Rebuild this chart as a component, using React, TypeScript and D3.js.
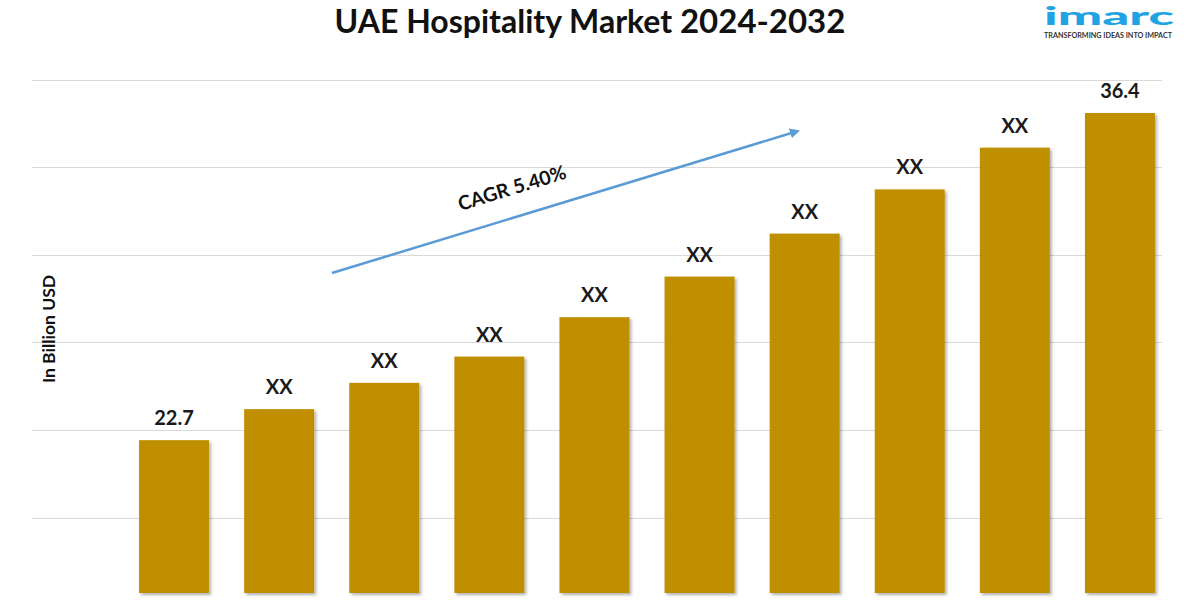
import * as d3 from 'd3';
import React from 'react';

const years = ['2023', '2024', '2025', '2026', '2027', '2028', '2029', '2030', '2031', '2032'];
const marketValues = [22.7, 24.0, 25.1, 26.2, 27.85, 29.55, 31.35, 33.2, 34.95, 36.4];
const valueLabels = ['22.7', 'XX', 'XX', 'XX', 'XX', 'XX', 'XX', 'XX', 'XX', '36.4'];
// hidden value axis: major gridlines only
const gridValues = [19.46, 23.13, 26.79, 30.45, 34.12, 37.78];

const titleText = 'UAE Hospitality Market';
const titleYears = '2024-2032';
const yAxisTitle = 'In Billion USD';
const cagrText = 'CAGR 5.40%';

const W = 1200;
const H = 600;
const FONT = 'Lato, "Open Sans", "DejaVu Sans", sans-serif';
const BAR = '#BF8F00';
const GRID = '#D9D9D9';
const BLUE = '#5B9BD5';

const App = () => {
  const xScale = d3
    .scaleBand()
    .domain(years)
    .range([121.5, 1172.5])
    .paddingInner(0.334)
    .paddingOuter(0.167);

  const yScale = d3.scaleLinear().domain([16.3, 36.4]).range([593, 113]);

  const bw = xScale.bandwidth();

  return (
    <svg
      width={W}
      height={H}
      style={{ position: 'absolute', left: 0, top: 0, background: '#fff' }}
    >
      <defs>
        <filter id="barShadow" x="-10%" y="-10%" width="130%" height="130%">
          <feDropShadow dx="2" dy="2" stdDeviation="1.5" floodColor="#000" floodOpacity="0.3" />
        </filter>
        <marker
          id="arrowHead"
          viewBox="0 0 10 10"
          refX="8"
          refY="5"
          markerWidth="4"
          markerHeight="4"
          orient="auto"
        >
          <path d="M0,0 L10,5 L0,10 z" fill={BLUE} />
        </marker>
      </defs>

      <rect width={W} height={H} fill="#fff" />

      {/* title */}
      <text
        x={590}
        y={33}
        textAnchor="middle"
        fontFamily={FONT}
        fontWeight="bold"
        fontSize={32}
        fill="#111"
      >
        {titleText} <tspan fontSize={33}>{titleYears}</tspan>
      </text>

      {/* logo */}
      <text
        x={1044}
        y={25}
        fontFamily={FONT}
        fontWeight={900}
        fontSize={25}
        fill="#1FA3E3"
        textLength={130}
        lengthAdjust="spacingAndGlyphs"
      >
        imarc
      </text>
      <text
        x={1044}
        y={37.5}
        fontFamily={FONT}
        fontWeight="bold"
        fontSize={6.5}
        fill="#333"
        textLength={128}
        lengthAdjust="spacingAndGlyphs"
      >
        TRANSFORMING IDEAS INTO IMPACT
      </text>

      {/* gridlines */}
      <g>
        {gridValues.map((v) => (
          <line
            key={v}
            x1={32}
            x2={1162}
            y1={Math.round(yScale(v)) + 0.5}
            y2={Math.round(yScale(v)) + 0.5}
            stroke={GRID}
            strokeWidth={1}
          />
        ))}
      </g>

      {/* y axis title */}
      <text
        transform={`translate(55,329) rotate(-90)`}
        textAnchor="middle"
        fontFamily={FONT}
        fontWeight="bold"
        fontSize={17.5}
        fill="#111"
      >
        {yAxisTitle}
      </text>

      {/* bars */}
      <g filter="url(#barShadow)">
        {years.map((yr, i) => (
          <rect
            key={yr}
            x={xScale(yr)}
            y={yScale(marketValues[i])}
            width={bw}
            height={yScale.range()[0] - yScale(marketValues[i])}
            fill={BAR}
          />
        ))}
      </g>

      {/* value labels */}
      <g>
        {years.map((yr, i) => (
          <text
            key={yr}
            x={(xScale(yr) as number) + bw / 2}
            y={yScale(marketValues[i]) - 15}
            textAnchor="middle"
            fontFamily={FONT}
            fontWeight="bold"
            fontSize={20}
            fill="#1a1a1a"
          >
            {valueLabels[i]}
          </text>
        ))}
      </g>

      {/* CAGR arrow */}
      <line
        x1={332}
        y1={273}
        x2={798}
        y2={131}
        stroke={BLUE}
        strokeWidth={2.5}
        markerEnd="url(#arrowHead)"
      />
      <text
        transform="translate(512,188) rotate(-17)"
        textAnchor="middle"
        dy="0.35em"
        fontFamily={FONT}
        fontWeight="bold"
        fontSize={19.5}
        fill="#111"
      >
        {cagrText}
      </text>
    </svg>
  );
};

export default App;
